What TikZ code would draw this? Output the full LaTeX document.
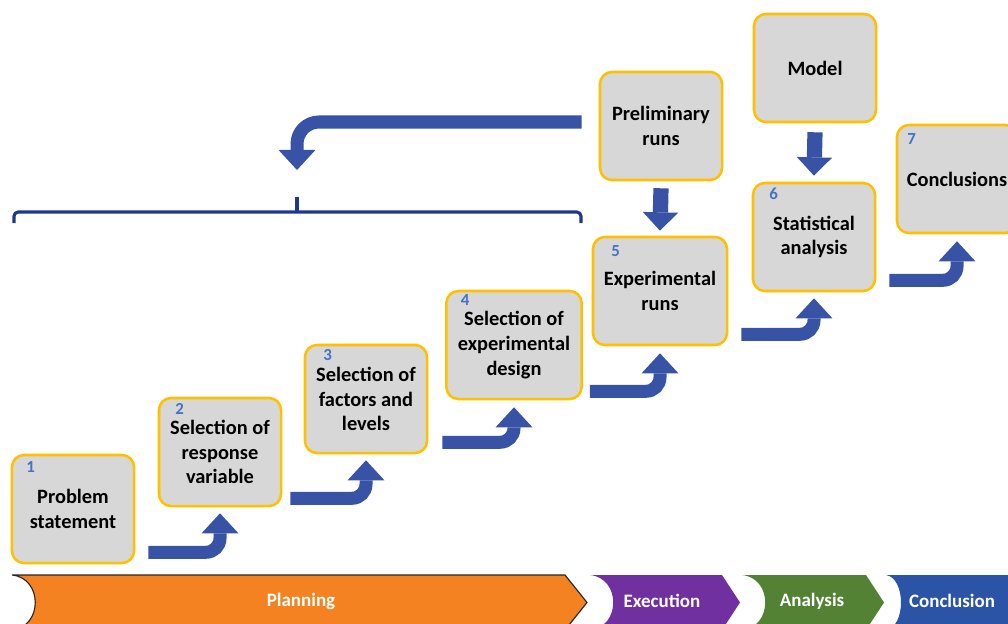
\documentclass[tikz,border=0pt]{standalone}
\usepackage{fontspec}
\setmainfont{Carlito}
\usetikzlibrary{arrows.meta,calc}
\definecolor{boxfill}{RGB}{215,215,215}
\definecolor{boxline}{RGB}{255,192,0}
\definecolor{numblue}{RGB}{68,114,196}
\definecolor{arrowblue}{RGB}{56,82,166}
\definecolor{braceblue}{RGB}{32,56,140}
\definecolor{planorange}{RGB}{245,130,32}
\definecolor{execpurple}{RGB}{112,48,160}
\definecolor{anagreen}{RGB}{84,130,53}
\definecolor{concblue}{RGB}{44,84,166}
\begin{document}
\begin{tikzpicture}[x=0.025cm,y=-0.025cm,
    box/.style={draw=boxline,line width=1.8pt,fill=boxfill,rounded corners=0.3cm,
        minimum width=3.05cm,minimum height=2.7cm,align=center,inner sep=2pt,
        font=\fontsize{14.5}{17.5}\selectfont\bfseries},
    num/.style={text=numblue,inner sep=0pt,font=\fontsize{12}{14}\selectfont\bfseries},
    stepup/.style={draw=arrowblue,line width=0.325cm,rounded corners=0.35cm,
        -{Triangle[width=0.92cm,length=0.5cm,line width=0pt]}},
    down/.style={draw=arrowblue,line width=0.38cm,
        -{Triangle[width=0.88cm,length=0.46cm,line width=0pt]}},
    phase/.style={text=white,font=\fontsize{13.5}{16}\selectfont\bfseries}]
    \useasboundingbox (0,0) rectangle (1008,624);
    \clip (0,0) rectangle (1008,624);
    \fill[white] (0,0) rectangle (1008,624);

    % steps
    \node[box] (b1) at (73,509) {Problem\\statement};
    \node[box] (b2) at (220,452) {Selection of\\response\\variable};
    \node[box] (b3) at (366,399) {Selection of\\factors and\\levels};
    \node[box,minimum width=3.38cm] (b4) at (514,345) {Selection of\\experimental\\design};
    \node[box,minimum width=3.35cm] (b5) at (660,291) {Experimental\\runs};
    \node[box] (pre) at (661,126) {Preliminary\\runs};
    \node[box] (mod) at (815,68) {Model};
    \node[box] (b6) at (814,237) {Statistical\\analysis};
    \node[box,minimum width=3cm] (b7) at (957,179) {Conclusions};

    % step numbers
    \node[num] (n1) at ($(b1.north west)+(20,13)$) {1};
    \node[num] (n2) at ($(b2.north west)+(22,12)$) {2};
    \node[num] (n3) at ($(b3.north west)+(24,11)$) {3};
    \node[num] (n4) at ($(b4.north west)+(20,10)$) {4};
    \node[num] (n5) at ($(b5.north west)+(24,15)$) {5};
    \node[num] (n6) at ($(b6.north west)+(22,12)$) {6};
    \node[num] (n7) at ($(b7.north west)+(16,15)$) {7};

    % arrows between steps
    \draw[stepup] ($(b1.south east)+(13,-12)$) -| ($(b2.south)+(0,6)$);
    \draw[stepup] ($(b2.south east)+(8,-9)$) -| ($(b3.south)+(0,6)$);
    \draw[stepup] ($(b3.south east)+(14,-12)$) -| ($(b4.south)+(0,7)$);
    \draw[stepup] ($(b4.south east)+(7,-9)$) -| ($(b5.south)+(0,7)$);
    \draw[stepup] ($(b5.south east)+(13,-12)$) -| ($(b6.south)+(0,6)$);
    \draw[stepup] ($(b6.south east)+(13,-12)$) -| ($(b7.south)+(0,7)$);
    \draw[down] ($(pre.south)+(0,7)$) -- ($(b5.north)+(0,-5)$);
    \draw[down] ($(mod.south)+(0,9)$) -- ($(b6.north)+(0,-6)$);

    % planning bracket and feedback arrow
    \coordinate (bl) at (14,223);
    \coordinate (br) at (581,223);
    \coordinate (tick) at (297,197);
    \draw[braceblue,line width=2.2pt,rounded corners=3pt]
        (bl) -- (14,212) -- (581,212) -- (br);
    \draw[braceblue,line width=2.2pt] (297,212) -- (tick);
    \draw[stepup,rounded corners=0.55cm] ($(pre.west)+(-17,-4)$) -| ($(tick)+(0,-27)$);

    % phases
    \fill[planorange,draw=black!85,line width=0.8pt] (12,575) -- (565,575) -- (587,602.5)
        -- (565,630) -- (12,630) .. controls (43,627) and (43,578) .. (12,575) -- cycle;
    \fill[execpurple] (590,575) -- (722,575) -- (740,602.5) -- (722,630) -- (590,630)
        .. controls (621,627) and (621,578) .. (590,575) -- cycle;
    \fill[anagreen] (742,575) -- (866,575) -- (884,602.5) -- (866,630) -- (742,630)
        .. controls (773,627) and (773,578) .. (742,575) -- cycle;
    \fill[concblue] (886,575) -- (1030,575) -- (1030,630) -- (886,630)
        .. controls (906,627) and (906,578) .. (886,575) -- cycle;
    \node[phase] (plan) at (301,601) {Planning};
    \node[phase] (exec) at (662,601) {Execution};
    \node[phase] (ana) at (812,601) {Analysis};
    \node[phase] (conc) at (952,601) {Conclusion};
\end{tikzpicture}
\end{document}
